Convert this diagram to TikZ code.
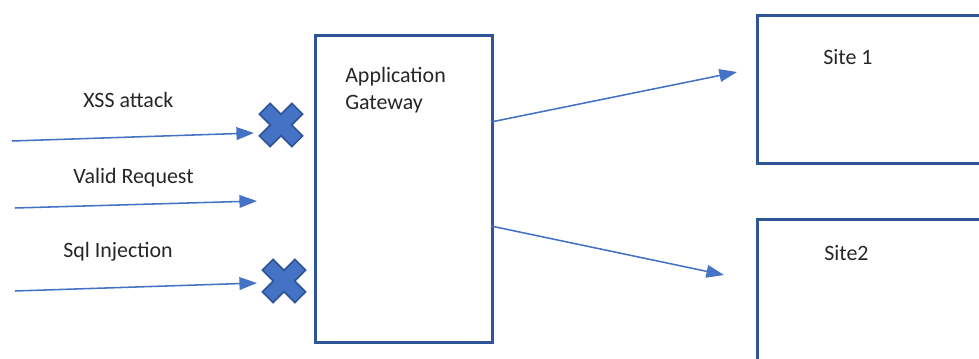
\documentclass[tikz,border=0pt]{standalone}
\usepackage{fontspec}
\setmainfont{Carlito}
\usepackage{tikz}
\usetikzlibrary{arrows.meta,positioning}

\definecolor{flowblue}{HTML}{4472C4}
\definecolor{boxblue}{HTML}{2F5597}
\definecolor{txtgray}{HTML}{262626}

\tikzset{
	box/.style={draw=boxblue, line width=2pt, anchor=north west, inner sep=0pt},
	lbl/.style={text=txtgray, inner sep=0pt, anchor=west, font=\fontsize{15.6}{19.5}\selectfont},
	flow/.style={draw=flowblue, line width=1.1pt, -{Triangle[length=12.5pt, width=9pt]}},
	blockmark/.style={fill=flowblue, draw=boxblue, line width=1.2pt, line join=miter}
}

\begin{document}
\begin{tikzpicture}[x=0.025cm, y=-0.025cm]
				% Page frame and clipping of the cut-off boxes:
				\useasboundingbox (0, 0) rectangle (979, 359);
				\clip (0, 0) rectangle (979, 359);
				% Boxes:
				\node[box, minimum width=4.425cm, minimum height=7.675cm](gw) at (314, 34){};
				\node[box, minimum width=6.2cm, minimum height=3.7cm](site1) at (756, 14){};
				\node[box, minimum width=6.2cm, minimum height=5cm](site2) at (756, 218){};
				\node[lbl, align=left] (gwtext) at (345, 90){Application\\Gateway};
				\node[lbl] (site1text) at (823, 57){Site 1};
				\node[lbl] (site2text) at (824, 253){Site2};
				% Incoming requests:
				\node[lbl] (xsstext) at (83, 100){XSS attack};
				\node[lbl] (validtext) at (73, 178){Valid Request};
				\node[lbl] (sqltext) at (63, 252){Sql Injection};
				\coordinate (xssin) at (12, 141);
				\coordinate (xssend) at (254, 133);
				\coordinate (validin) at (15, 208);
				\coordinate (validend) at (257, 201);
				\coordinate (sqlin) at (15, 291);
				\coordinate (sqlend) at (257, 283);
				\draw[flow] (xssin) -- (xssend);
				\draw[flow] (validin) -- (validend);
				\draw[flow] (sqlin) -- (sqlend);
				% Blocked marks:
				\coordinate (xssx) at (281, 125);
				\coordinate (sqlx) at (284, 281);
				\foreach \m in {xssx, sqlx}{
					\begin{scope}[shift={(\m)}, rotate=45]
						\path[blockmark] (-7.5, -23) -- (7.5, -23) -- (7.5, -7.5) -- (23, -7.5) -- (23, 7.5) -- (7.5, 7.5)
							-- (7.5, 23) -- (-7.5, 23) -- (-7.5, 7.5) -- (-23, 7.5) -- (-23, -7.5) -- (-7.5, -7.5) -- cycle;
					\end{scope}
				}
				% Outgoing traffic:
				\coordinate (gwout1) at (491, 122);
				\coordinate (gwout2) at (491, 226);
				\coordinate (site1in) at (737, 72);
				\coordinate (site2in) at (724, 275);
				\draw[flow] (gwout1) -- (site1in);
				\draw[flow] (gwout2) -- (site2in);
			\end{tikzpicture}
\end{document}
